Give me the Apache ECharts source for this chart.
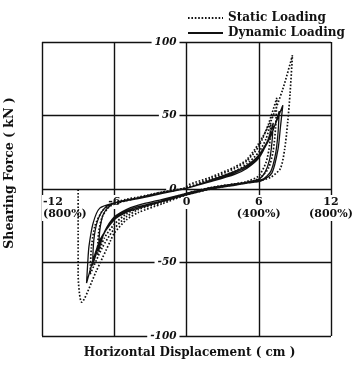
<!DOCTYPE html>
<html><head><meta charset="utf-8">
<script src="https://cdn.jsdelivr.net/npm/echarts@6/dist/echarts.min.js"></script>
<style>html,body{margin:0;padding:0;background:#fff}#c{width:358px;height:365px}</style>
</head><body><div id="c"></div>
<script>
// ---- data (x: displacement cm, y: shearing force kN) ----
const xTickValues = [-12, -6, 0, 6, 12];
const xTickTexts = ['-12\n(800%)', '-6', '0', '6\n(400%)', '12\n(800%)'];
const yTickValues = [-100, -50, 0, 50, 100];
const yTickTexts = ['-100', '-50', '0', '50', '100'];

const staticLoop1 = [[0,1],[2,6],[4,12],[5,17],[6,25],[6.6,34],[7.0,45],
  [6.9,30],[6.6,18],[6.0,9],[5,5],[4,3.5],[2,1],[0,-3],[-2,-8],[-4,-13],[-5,-17],[-6,-24],[-6.8,-33],[-7.4,-45],
  [-7.3,-30],[-7.0,-19],[-6.4,-12],[-5.5,-9],[-4,-6],[-2,-2],[0,1]];
const staticLoop2 = [[0,1],[2,7],[4,14],[5,19],[6,29],[6.8,44],[7.5,62],
  [7.4,42],[7.2,26],[6.8,14],[6.0,7],[5,4.5],[4,3],[2,0.5],[0,-3.5],[-2,-9],[-4,-14],[-5,-19],[-6,-27],[-7,-40],[-8.0,-58],
  [-7.9,-40],[-7.6,-25],[-7.0,-15],[-6.2,-10],[-5,-7],[-4,-5.5],[-2,-2],[0,1]];
const staticLoop3 = [[0,1.5],[2,8],[4,15],[5,20],[6,31],[7,46],[8,68],[8.8,91],
  [8.6,65],[8.4,45],[8.15,27],[7.8,14],[7.0,8],[6,5.5],[4,3],[2,0],[0,-4],[-2,-10],[-4,-16],[-5,-21],[-6,-30],[-6.3,-35],[-7.5,-56],[-8.7,-77],
  [-9.0,-58],[-9.0,-30],[-9.0,-5],[-9.0,0.5]];

const dynamicLoop1 = [[0,0.5],[2,5],[4,10],[5,14],[6,21],[6.7,32],[7.2,45],
  [7.1,32],[6.9,20],[6.5,11],[6,6.5],[5,4.5],[4,3.5],[2,1],[0,-3],[-2,-7],[-4,-11],[-5,-14],[-6,-19],[-6.8,-29],[-7.3,-42],
  [-7.2,-28],[-6.9,-17],[-6.3,-11],[-5.5,-8.5],[-4,-6],[-2,-2.5],[0,0.5]];
const dynamicLoop2 = [[0,0.5],[2,5.5],[4,11],[5,15],[6,22],[7,36],[7.7,53],
  [7.6,38],[7.4,24],[7.0,12],[6.3,6.5],[5,4.5],[4,3],[2,0.5],[0,-3.5],[-2,-8],[-4,-12],[-5,-15],[-6,-20],[-7,-33],[-7.8,-52],
  [-7.7,-35],[-7.4,-22],[-6.8,-13],[-6,-9.5],[-5,-8],[-4,-6],[-2,-2.5],[0,0.5]];
const dynamicLoop3 = [[0,0.5],[2,6],[4,12],[5,16],[6,23],[7,37],[8.0,57],
  [7.8,42],[7.6,27],[7.1,11],[6.2,5.5],[5,4],[4,2.5],[2,0],[0,-4],[-2,-8.5],[-4,-13],[-5,-16],[-6,-21],[-7.2,-35],[-8.3,-64],
  [-8.2,-50],[-8.1,-39],[-7.75,-23],[-7.2,-13],[-6,-9.5],[-5,-8],[-4,-6.5],[-2,-3],[0,0.5]];

const staticData = staticLoop1.concat(staticLoop2, staticLoop3);
const dynamicData = dynamicLoop1.concat(dynamicLoop2, dynamicLoop3);

const FONT = 'DejaVu Serif';
const lineCol = '#111';
const gridL = 42, gridR = 27, gridT = 42, gridB = 29, W = 358, H = 365;
const halfW = (W - gridL - gridR) / 2, halfH = (H - gridT - gridB) / 2;
const chart = echarts.init(document.getElementById('c'), null, {renderer: 'canvas'});
chart.setOption({
  backgroundColor: '#fff',
  animation: false,
  legend: {
    orient: 'vertical', left: 182, top: 7, itemGap: 3, itemWidth: 35, itemHeight: 10,
    itemStyle: {opacity: 0},
    textStyle: {fontFamily: FONT, fontWeight: 'bold', fontSize: 12, color: '#111'},
    data: ['Static Loading', 'Dynamic Loading']
  },
  grid: {left: gridL, right: gridR, top: gridT, bottom: gridB, containLabel: false, outerBoundsMode: 'none'},
  xAxis: [
    {type: 'value', min: -12, max: 12, interval: 6, z: 0,
     axisLine: {show: false, onZero: false}, axisTick: {show: false}, axisLabel: {show: false},
     splitLine: {show: true, lineStyle: {color: lineCol, width: 1.4}},
     name: 'Horizontal Displacement ( cm )', nameLocation: 'middle', nameGap: 11,
     nameTextStyle: {fontFamily: FONT, fontWeight: 'bold', fontSize: 12, color: '#111', padding: [0, 0, 0, 6]}},
    {type: 'value', min: -12, max: 12, interval: 6, z: 1, position: 'bottom', offset: -halfH,
     axisLine: {show: false, onZero: false}, axisTick: {show: false},
     splitLine: {show: false},
     axisLabel: {show: true, margin: 6, fontFamily: FONT, fontWeight: 'bold', fontSize: 11, color: '#111',
       lineHeight: 12, backgroundColor: '#fff', padding: [1, 1],
       alignMinLabel: 'left',
       formatter: v => { const i = xTickValues.indexOf(v); return i >= 0 ? xTickTexts[i] : ''; }}}
  ],
  yAxis: [
    {type: 'value', min: -100, max: 100, interval: 50, z: 0,
     axisLine: {show: false, onZero: false}, axisTick: {show: false}, axisLabel: {show: false},
     splitLine: {show: true, lineStyle: {color: lineCol, width: 1.4}},
     name: 'Shearing Force ( kN )', nameLocation: 'middle', nameGap: 26, nameRotate: 90,
     nameTextStyle: {fontFamily: FONT, fontWeight: 'bold', fontSize: 12.5, color: '#111', padding: [0, 0, 0, 32]}},
    {type: 'value', min: -100, max: 100, interval: 50, z: 1, position: 'left', offset: -halfW,
     axisLine: {show: false, onZero: false}, axisTick: {show: false},
     splitLine: {show: false},
     axisLabel: {show: true, margin: 7, fontFamily: FONT, fontWeight: 'bold', fontStyle: 'italic', fontSize: 10.5, color: '#111',
       backgroundColor: '#fff', padding: [0, 3],
       formatter: v => { const i = yTickValues.indexOf(v); return i >= 0 ? yTickTexts[i] : ''; }}}
  ],
  series: [
    {name: 'Static Loading', type: 'line', data: staticData, showSymbol: false, symbol: 'none', smooth: 0.25, z: 3,
     xAxisIndex: 0, yAxisIndex: 0,
     lineStyle: {color: '#111', width: 1.7, type: [1.6, 1.8]}, itemStyle: {color: '#111'}},
    {name: 'Dynamic Loading', type: 'line', data: dynamicData, showSymbol: false, symbol: 'none', smooth: 0.25, z: 3,
     xAxisIndex: 0, yAxisIndex: 0,
     lineStyle: {color: '#111', width: 1.3, type: 'solid'}, itemStyle: {color: '#111'}}
  ]
});
</script></body></html>
